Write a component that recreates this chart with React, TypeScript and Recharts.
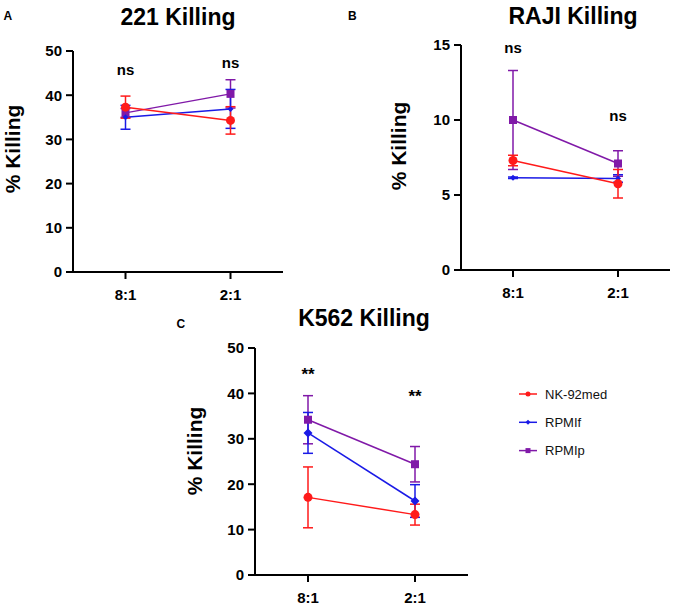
import React from 'react';
import { LineChart, Line, XAxis, YAxis, ErrorBar, ReferenceDot } from 'recharts';

// ---------- data ----------
const ratios = ['8:1', '2:1'];
const seriesNames = ['NK-92med', 'RPMIf', 'RPMIp'];
const seriesKeys = ['med', 'f', 'p'];
const seriesColors = ['#ff1a1a', '#1a1ae6', '#8019a8'];
const seriesShapes = ['circle', 'diamond', 'square'];

// 221 Killing
const k221Med = [37.3, 34.3];
const k221MedErr = [2.5, 3.1];
const k221F = [35.0, 36.9];
const k221FErr = [2.7, 4.4];
const k221P = [36.0, 40.3];
const k221PErr = [1.0, 3.2];
const k221Sig = ['ns', 'ns'];
const k221Ticks = [0, 10, 20, 30, 40, 50];

// RAJI Killing
const rajiMed = [7.3, 5.75];
const rajiMedErr = [0.35, 0.95];
const rajiF = [6.15, 6.1];
const rajiFErr = [0.05, 0.25];
const rajiP = [10.0, 7.1];
const rajiPErr = [3.3, 0.85];
const rajiSig = ['ns', 'ns'];
const rajiTicks = [0, 5, 10, 15];

// K562 Killing
const k562Med = [17.1, 13.3];
const k562MedErr = [6.7, 2.3];
const k562F = [31.3, 16.3];
const k562FErr = [4.5, 3.6];
const k562P = [34.2, 24.4];
const k562PErr = [5.3, 3.9];
const k562Sig = ['**', '**'];
const k562Ticks = [0, 10, 20, 30, 40, 50];

const buildRows = (med: number[], medErr: number[], f: number[], fErr: number[], p: number[], pErr: number[]) =>
  ratios.map((ratio, i) => ({
    ratio,
    med: med[i], medErr: medErr[i],
    f: f[i], fErr: fErr[i],
    p: p[i], pErr: pErr[i],
  }));

const FONT = '"Liberation Sans", Arial, Helvetica, sans-serif';

const panels = [
  {
    id: 'A', title: '221 Killing',
    rows: buildRows(k221Med, k221MedErr, k221F, k221FErr, k221P, k221PErr),
    ticks: k221Ticks, domain: [0, 50], sig: k221Sig, sigAt: [44.5, 46.2], sigSize: 15,
    left: 0, top: 0, width: 290, height: 310,
    margin: { top: 51, right: 7, bottom: 0, left: 0 }, yWidth: 73, xHeight: 38, pad: 52.5,
    sizes: { circle: 9, diamond: 6, square: 8 },
    titleX: 178, titleY: 25, letterX: 3.5, letterY: 20, ylabX: 15, ylabY: 149,
  },
  {
    id: 'B', title: 'RAJI Killing',
    rows: buildRows(rajiMed, rajiMedErr, rajiF, rajiFErr, rajiP, rajiPErr),
    ticks: rajiTicks, domain: [0, 15], sig: rajiSig, sigAt: [14.5, 9.95], sigSize: 15,
    left: 390, top: 0, width: 286, height: 310,
    margin: { top: 45, right: 6, bottom: 0, left: 0 }, yWidth: 71, xHeight: 40, pad: 52,
    sizes: { circle: 9, diamond: 6, square: 8 },
    titleX: 573, titleY: 24, letterX: 348, letterY: 20, ylabX: 401, ylabY: 146,
  },
  {
    id: 'C', title: 'K562 Killing',
    rows: buildRows(k562Med, k562MedErr, k562F, k562FErr, k562P, k562PErr),
    ticks: k562Ticks, domain: [0, 50], sig: k562Sig, sigAt: [43.0, 38.2], sigSize: 17,
    left: 180, top: 290, width: 300, height: 317,
    margin: { top: 58, right: 12, bottom: 0, left: 0 }, yWidth: 75, xHeight: 32, pad: 53,
    sizes: { circle: 9, diamond: 9, square: 8 },
    titleX: 364, titleY: 325.5, letterX: 176.5, letterY: 327.5, ylabX: 196.7, ylabY: 451,
  },
];

const axisStyle = { stroke: '#000', strokeWidth: 2 };
const tickStyle = { fill: '#000', fontSize: 15, fontWeight: 700, fontFamily: FONT };

const markerEl = (shape: string, color: string, size: number, cx: number, cy: number, key: string) => {
  const h = size / 2;
  if (shape === 'circle') return <circle key={key} cx={cx} cy={cy} r={h} fill={color} />;
  if (shape === 'square') return <rect key={key} x={cx - h} y={cy - h} width={size} height={size} fill={color} />;
  return <polygon key={key} points={`${cx},${cy - h} ${cx + h},${cy} ${cx},${cy + h} ${cx - h},${cy}`} fill={color} />;
};

const renderMarker = (shape: string, color: string, size: number) => (props: any) => {
  const { cx, cy, index } = props;
  const k = `${shape}-${index}`;
  if (cx == null || cy == null || isNaN(cx) || isNaN(cy)) return <g key={k} />;
  return markerEl(shape, color, size, cx, cy, k);
};

const sigLabel = (text: string, size: number) => (props: any) => {
  const vb = props.viewBox || {};
  const x = (vb.x ?? 0) + (vb.width ?? 0) / 2;
  const y = (vb.y ?? 0) + (vb.height ?? 0) / 2;
  return (
    <text x={x} y={y} textAnchor="middle" fill="#000" fontSize={size} fontWeight={700} fontFamily={FONT}>
      {text}
    </text>
  );
};

const drawOrder = [2, 1, 0];

function Panel({ cfg }: { cfg: any }) {
  return (
    <div style={{ position: 'absolute', left: cfg.left, top: cfg.top }}>
      <LineChart width={cfg.width} height={cfg.height} data={cfg.rows} margin={cfg.margin}>
        <XAxis
          dataKey="ratio"
          type="category"
          padding={{ left: cfg.pad, right: cfg.pad }}
          height={cfg.xHeight}
          tickSize={7}
          tickMargin={10}
          axisLine={axisStyle}
          tickLine={axisStyle}
          tick={tickStyle}
          interval={0}
        />
        <YAxis
          type="number"
          domain={cfg.domain}
          ticks={cfg.ticks}
          width={cfg.yWidth}
          tickSize={7}
          tickMargin={4}
          axisLine={axisStyle}
          tickLine={axisStyle}
          tick={tickStyle}
          interval={0}
          allowDataOverflow
        />
        {drawOrder.map((i) => (
          <Line
            key={seriesKeys[i]}
            type="linear"
            dataKey={seriesKeys[i]}
            name={seriesNames[i]}
            stroke={seriesColors[i]}
            strokeWidth={1.5}
            dot={renderMarker(seriesShapes[i], seriesColors[i], cfg.sizes[seriesShapes[i]])}
            activeDot={false}
            isAnimationActive={false}
          >
            <ErrorBar
              dataKey={seriesKeys[i] + 'Err'}
              width={5}
              strokeWidth={1.5}
              stroke={seriesColors[i]}
              direction="y"
              isAnimationActive={false}
            />
          </Line>
        ))}
        {ratios.map((r, i) => (
          <ReferenceDot
            key={r}
            x={r}
            y={cfg.sigAt[i]}
            r={0}
            fill="none"
            stroke="none"
            label={sigLabel(cfg.sig[i], cfg.sigSize)}
          />
        ))}
      </LineChart>
    </div>
  );
}

export default function App() {
  return (
    <div style={{ position: 'fixed', left: 0, top: 0, width: 676, height: 607, background: '#fff', overflow: 'hidden' }}>
      {panels.map((p) => (
        <Panel key={p.id} cfg={p} />
      ))}
      <svg width={676} height={607} style={{ position: 'absolute', left: 0, top: 0, pointerEvents: 'none' }}>
        {panels.map((p) => (
          <g key={p.id}>
            <text x={p.titleX} y={p.titleY} textAnchor="middle" fontSize={23} fontWeight={700} fontFamily={FONT} fill="#000">
              {p.title}
            </text>
            <text x={p.letterX} y={p.letterY} fontSize={12} fontWeight={700} fontFamily={FONT} fill="#000">
              {p.id}
            </text>
            <text
              transform={`translate(${p.ylabX},${p.ylabY}) rotate(-90)`}
              x={0}
              y={5.3}
              textAnchor="middle"
              fontSize={21}
              fontWeight={700}
              fontFamily={FONT}
              fill="#000"
            >
              % Killing
            </text>
          </g>
        ))}
        {seriesNames.map((name, i) => {
          const y = 394 + i * 28.3;
          return (
            <g key={name}>
              <line x1={519} x2={537} y1={y} y2={y} stroke={seriesColors[i]} strokeWidth={1.5} />
              {markerEl(seriesShapes[i], seriesColors[i], 5, 528, y, 'lm' + i)}
              <text x={545} y={y} dominantBaseline="central" fontSize={13} fontFamily={FONT} fill="#111">
                {name}
              </text>
            </g>
          );
        })}
      </svg>
    </div>
  );
}
